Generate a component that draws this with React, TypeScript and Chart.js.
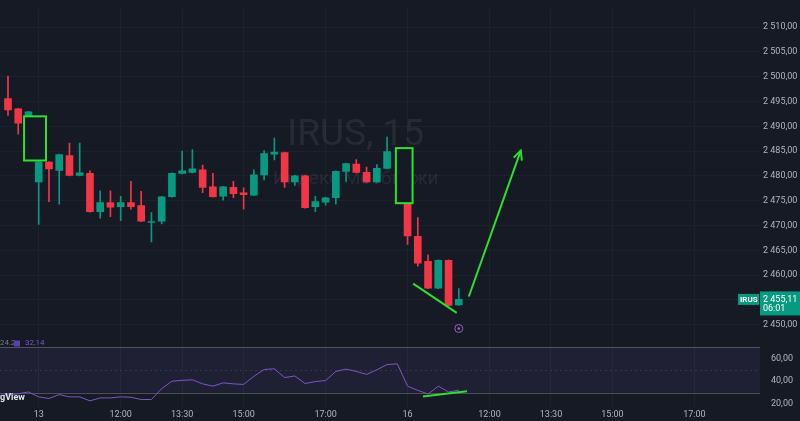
import React, { useEffect, useRef } from "react";
import { Chart, registerables } from "chart.js";

Chart.register(...registerables);

// ---------- data ----------
const firstIndex = -4; // bar index of the first entry (index 0 = 13th, 10:00)

const candleTimes = [
  "12 18:00", "12 18:15", "12 18:30", "12 18:45",
  "13 10:00", "13 10:15", "13 10:30", "13 10:45", "13 11:00", "13 11:15", "13 11:30", "13 11:45",
  "13 12:00", "13 12:15", "13 12:30", "13 12:45", "13 13:00", "13 13:15", "13 13:30", "13 13:45",
  "13 14:00", "13 14:15", "13 14:30", "13 14:45", "13 15:00", "13 15:15", "13 15:30", "13 15:45",
  "13 16:00", "13 16:15", "13 16:30", "13 16:45", "13 17:00", "13 17:15", "13 17:30", "13 17:45",
  "13 18:00", "13 18:15", "13 18:30", "13 18:45",
  "16 10:00", "16 10:15", "16 10:30", "16 10:45", "16 11:00", "16 11:15",
];

const openP = [
  null, 2495.6, 2493.5, 2490.6,
  2478.8, 2482.8, 2481.1, 2484.1, 2480.1, 2480.5, 2472.8, 2474.6, 2473.8, 2474.6,
  2474.0, 2470.6, 2470.9, 2475.8, 2480.5, 2480.7, 2481.2, 2477.8, 2475.9, 2477.7,
  2476.6, 2476.1, 2480.2, 2484.4, 2484.7, 2478.8, 2480.0, 2473.8, 2474.7, 2475.6,
  2480.9, 2482.4, 2480.7, 2478.8, 2481.5, null,
  2474.5, 2467.8, 2462.8, 2457.4, 2463.0, 2454.0,
];
const highP = [
  null, 2500.1, 2493.6, 2493.0,
  2482.9, 2482.9, 2484.4, 2486.6, 2486.6, 2481.0, 2477.0, 2477.0, 2475.9, 2478.9,
  2476.9, 2472.6, 2475.9, 2480.6, 2485.0, 2485.3, 2482.2, 2480.5, 2477.9, 2478.9,
  2477.6, 2481.2, 2485.1, 2487.6, 2484.8, 2480.1, 2480.1, 2475.9, 2475.7, 2481.0,
  2482.6, 2483.3, 2481.8, 2482.3, 2487.8, null,
  2474.6, 2471.6, 2464.1, 2463.1, 2463.1, 2457.3,
];
const lowP = [
  null, 2492.2, 2488.4, 2490.4,
  2470.2, 2474.8, 2474.3, 2480.0, 2480.0, 2472.7, 2471.5, 2471.8, 2471.0, 2473.3,
  2470.8, 2466.7, 2470.3, 2475.7, 2480.4, 2480.6, 2476.6, 2475.7, 2475.1, 2475.6,
  2473.3, 2476.0, 2479.2, 2483.2, 2477.7, 2478.1, 2473.5, 2472.8, 2474.1, 2474.3,
  2478.9, 2480.6, 2478.7, 2478.7, 2481.4, null,
  2466.2, 2461.8, 2457.3, 2457.3, 2453.8, 2453.9,
];
const closeP = [
  null, 2493.3, 2490.6, 2492.9,
  2482.8, 2481.4, 2484.3, 2480.1, 2480.6, 2472.8, 2474.6, 2473.7, 2474.6, 2473.8,
  2470.9, 2470.8, 2475.8, 2480.5, 2481.0, 2481.4, 2477.7, 2475.8, 2477.8, 2476.4,
  2476.2, 2480.2, 2484.5, 2484.8, 2478.8, 2480.0, 2473.6, 2474.8, 2475.6, 2480.9,
  2482.5, 2480.7, 2478.8, 2481.5, 2484.9, null,
  2467.9, 2462.4, 2457.4, 2463.0, 2453.9, 2455.11,
];
const rsiValues = [
  27.6, 28.0, 29.0, 30.6,
  26.3, 24.9, 28.3, 26.3, 26.3, 22.8, 25.4, 25.4, 26.3, 26.0,
  24.0, 24.0, 33.5, 40.0, 40.8, 41.2, 37.7, 35.7, 38.6, 37.7,
  37.2, 44.3, 50.3, 50.9, 43.2, 44.6, 38.0, 39.7, 40.6, 48.6,
  50.6, 48.6, 46.0, 50.0, 54.6, 55.2,
  35.7, 32.0, 28.8, 35.7, 30.6, 32.14,
];

const priceTicks = [2450, 2455, 2460, 2465, 2470, 2475, 2480, 2485, 2490, 2495, 2500, 2505, 2510];
const rsiTicks = [20, 40, 60];
const rsiBands = [70, 50, 30];
const xTickIndex = [0, 8, 14, 20, 28, 36, 44, 50, 56, 64];
const xTickLabels = ["13", "12:00", "13:30", "15:00", "17:00", "16", "12:00", "13:30", "15:00", "17:00"];

// user drawings, in bar-index / price units
const boxX0 = [-1.43, 34.86];
const boxX1 = [0.71, 36.49];
const boxTop = [2492.0, 2485.6];
const boxBottom = [2483.1, 2474.5];
const trendLine = [36.55, 2458.3, 40.8, 2452.4];
const arrowLine = [41.98, 2455.7, 47.05, 2485.1];
const rsiTrendLine = [37.5, 26.6, 41.8, 31.2];

const symbolName = "IRUS";
const intervalName = "15";
const description = "Индекс Мосбиржи";
const countdown = "06:01";
const rsiLegend = ["24.2", "32,14"];

// ---------- style ----------
const BG = "#161a25";
const GRID = "#1d212c";
const UP = "#089981";
const DOWN = "#f23645";
const TEXT = "#b2b5be";
const DRAW = "#2ee02e";
const FONT = "Roboto, 'Noto Sans', sans-serif";

const X_MIN = -3.78;
const X_MAX = 70.4;
const P_MIN = 2447.64;
const P_MAX = 2513.75;
const R_MIN = 17.43;
const R_MAX = 79.2;

function fmtPrice(v: number): string {
  const fixed = v.toFixed(2).replace(".", ",");
  const [intPart, dec] = fixed.split(",");
  const withSpace = intPart.replace(/\B(?=(\d{3})+(?!\d))/g, " ");
  return withSpace + "," + dec;
}

export default function App() {
  const ref = useRef<HTMLCanvasElement>(null);

  useEffect(() => {
    document.body.style.margin = "0";
    document.body.style.background = BG;
    const canvas = ref.current;
    if (!canvas) return;

    const bodies: any[] = [];
    const wicks: any[] = [];
    const colors: string[] = [];
    openP.forEach((o, k) => {
      const c = closeP[k];
      const h = highP[k];
      const l = lowP[k];
      if (o == null || c == null || h == null || l == null) return;
      const x = firstIndex + k;
      bodies.push({ x, y: [o, c] });
      wicks.push({ x, y: [l, h] });
      colors.push(c >= o ? UP : DOWN);
    });
    const rsiData = rsiValues.map((v, k) => ({ x: firstIndex + k, y: v }));

    const bgPlugin = {
      id: "bgPlugin",
      beforeDraw(chart: any) {
        const { ctx, width, height } = chart;
        ctx.save();
        ctx.fillStyle = BG;
        ctx.fillRect(0, 0, width, height);
        ctx.restore();
      },
      beforeDatasetsDraw(chart: any) {
        const { ctx, chartArea } = chart;
        const r = chart.scales.yRsi;
        const y = chart.scales.y;
        ctx.save();
        // watermark
        ctx.fillStyle = "rgba(255,255,255,0.07)";
        ctx.textAlign = "center";
        ctx.textBaseline = "alphabetic";
        const cx = chartArea.left + chartArea.width * 0.468;
        ctx.font = `37px ${FONT}`;
        ctx.fillText(`${symbolName}, ${intervalName}`, cx, y.top + 137);
        ctx.font = `19px ${FONT}`;
        ctx.fillText(description, cx, y.top + 176);
        // rsi bands
        const y70 = r.getPixelForValue(rsiBands[0]);
        const y50 = r.getPixelForValue(rsiBands[1]);
        const y30 = r.getPixelForValue(rsiBands[2]);
        ctx.fillStyle = "rgba(126,87,194,0.1)";
        ctx.fillRect(chartArea.left, y70, chartArea.width, y30 - y70);
        ctx.strokeStyle = "rgba(120,123,134,0.55)";
        ctx.lineWidth = 1;
        ctx.beginPath();
        ctx.moveTo(chartArea.left, Math.round(y70) + 0.5);
        ctx.lineTo(chartArea.right, Math.round(y70) + 0.5);
        ctx.moveTo(chartArea.left, Math.round(y30) + 0.5);
        ctx.lineTo(chartArea.right, Math.round(y30) + 0.5);
        ctx.stroke();
        ctx.setLineDash([2, 3]);
        ctx.strokeStyle = "rgba(120,123,134,0.25)";
        ctx.beginPath();
        ctx.moveTo(chartArea.left, Math.round(y50) + 0.5);
        ctx.lineTo(chartArea.right, Math.round(y50) + 0.5);
        ctx.stroke();
        ctx.restore();
      },
      afterDatasetsDraw(chart: any) {
        const { ctx, chartArea } = chart;
        const xs = chart.scales.x;
        const ys = chart.scales.y;
        const rs = chart.scales.yRsi;
        ctx.save();
        ctx.strokeStyle = DRAW;
        ctx.lineWidth = 2;
        // boxes
        boxX0.forEach((x0, k) => {
          const px0 = xs.getPixelForValue(x0);
          const px1 = xs.getPixelForValue(boxX1[k]);
          const py0 = ys.getPixelForValue(boxTop[k]);
          const py1 = ys.getPixelForValue(boxBottom[k]);
          ctx.fillStyle = BG;
          ctx.fillRect(px0, py0, px1 - px0, py1 - py0);
          ctx.strokeRect(px0, py0, px1 - px0, py1 - py0);
        });
        // trend line
        ctx.beginPath();
        ctx.moveTo(xs.getPixelForValue(trendLine[0]), ys.getPixelForValue(trendLine[1]));
        ctx.lineTo(xs.getPixelForValue(trendLine[2]), ys.getPixelForValue(trendLine[3]));
        ctx.stroke();
        // arrow
        const ax0 = xs.getPixelForValue(arrowLine[0]);
        const ay0 = ys.getPixelForValue(arrowLine[1]);
        const ax1 = xs.getPixelForValue(arrowLine[2]);
        const ay1 = ys.getPixelForValue(arrowLine[3]);
        ctx.beginPath();
        ctx.moveTo(ax0, ay0);
        ctx.lineTo(ax1, ay1);
        ctx.stroke();
        const ang = Math.atan2(ay1 - ay0, ax1 - ax0);
        const hl = 10;
        ctx.beginPath();
        ctx.moveTo(ax1 - hl * Math.cos(ang - 0.45), ay1 - hl * Math.sin(ang - 0.45));
        ctx.lineTo(ax1, ay1);
        ctx.lineTo(ax1 - hl * Math.cos(ang + 0.45), ay1 - hl * Math.sin(ang + 0.45));
        ctx.stroke();
        // rsi trend line
        ctx.beginPath();
        ctx.moveTo(xs.getPixelForValue(rsiTrendLine[0]), rs.getPixelForValue(rsiTrendLine[1]));
        ctx.lineTo(xs.getPixelForValue(rsiTrendLine[2]), rs.getPixelForValue(rsiTrendLine[3]));
        ctx.stroke();

        // event marker below the last bar
        const lastX = xs.getPixelForValue(firstIndex + closeP.length - 1);
        ctx.strokeStyle = "#9c5fc4";
        ctx.lineWidth = 1;
        ctx.beginPath();
        ctx.arc(lastX, ys.bottom - 8, 4, 0, Math.PI * 2);
        ctx.stroke();
        ctx.fillStyle = "#9c5fc4";
        ctx.beginPath();
        ctx.arc(lastX, ys.bottom - 8, 1.3, 0, Math.PI * 2);
        ctx.fill();

        // rsi legend
        ctx.font = `8px ${FONT}`;
        ctx.textBaseline = "middle";
        ctx.textAlign = "left";
        ctx.fillStyle = "#787b86";
        ctx.fillText(rsiLegend[0], 0, rs.top + 7);
        ctx.fillStyle = "#5b3fb0";
        ctx.fillRect(14, rs.top + 4, 6, 6);
        ctx.fillStyle = "#7e57c2";
        ctx.fillText(rsiLegend[1], 25, rs.top + 7);

        // logo text
        ctx.font = `bold 9px ${FONT}`;
        ctx.fillStyle = "#e0e3eb";
        ctx.textBaseline = "alphabetic";
        ctx.fillText("gView", 0, rs.bottom - 7);

        // price tag
        const last = closeP[closeP.length - 1] as number;
        const py = ys.getPixelForValue(last);
        ctx.fillStyle = UP;
        ctx.fillRect(chartArea.right, py - 8, 40, 24);
        ctx.fillRect(chartArea.right - 22, py - 5.5, 21, 11);
        ctx.fillStyle = "#ffffff";
        ctx.font = `bold 8px ${FONT}`;
        ctx.textBaseline = "middle";
        ctx.fillText(symbolName, chartArea.right - 20, py + 0.5);
        ctx.font = `9px ${FONT}`;
        ctx.fillText(fmtPrice(last), chartArea.right + 3, py);
        ctx.fillText(countdown, chartArea.right + 3, py + 9);
        ctx.restore();
      },
    };

    const chart = new Chart(canvas, {
      type: "line",
      data: {
        datasets: [
          {
            type: "line",
            label: "RSI",
            data: rsiData,
            xAxisID: "x",
            yAxisID: "yRsi",
            borderColor: "#7e57c2",
            backgroundColor: "#7e57c2",
            borderWidth: 1,
            pointRadius: 0,
            tension: 0,
            fill: false,
          } as any,
          {
            type: "bar",
            label: "bodies",
            data: bodies,
            xAxisID: "x",
            yAxisID: "y",
            backgroundColor: colors,
            barThickness: 7,
            minBarLength: 1,
            grouped: false,
            borderWidth: 0,
          } as any,
          {
            type: "bar",
            label: "wicks",
            data: wicks,
            xAxisID: "x",
            yAxisID: "y",
            backgroundColor: colors,
            barThickness: 1,
            grouped: false,
            borderWidth: 0,
          } as any,
        ],
      },
      options: {
        animation: false,
        responsive: false,
        devicePixelRatio: 1,
        layout: { padding: 0 },
        plugins: { legend: { display: false }, tooltip: { enabled: false } },
        scales: {
          x: {
            type: "linear",
            axis: "x",
            position: "bottom",
            offset: false,
            min: X_MIN,
            max: X_MAX,
            grid: { color: GRID, drawTicks: false, offset: false },
            border: { display: false },
            afterBuildTicks: (s: any) => {
              s.ticks = xTickIndex.map((v) => ({ value: v }));
            },
            afterFit: (s: any) => {
              s.height = 14;
            },
            ticks: {
              autoSkip: false,
              maxRotation: 0,
              padding: 2,
              color: TEXT,
              font: { family: FONT, size: 9 },
              callback: (_v: any, i: number) => xTickLabels[i],
            },
          },
          y: {
            type: "linear",
            axis: "y",
            position: "right",
            stack: "panes",
            stackWeight: 335,
            min: P_MIN,
            max: P_MAX,
            grid: { color: GRID, drawTicks: false },
            border: { display: false },
            afterBuildTicks: (s: any) => {
              s.ticks = priceTicks.map((v) => ({ value: v }));
            },
            afterFit: (s: any) => {
              s.width = 40;
            },
            ticks: {
              padding: 3,
              color: TEXT,
              font: { family: FONT, size: 9 },
              callback: (v: any) => (v === 2455 ? "" : fmtPrice(Number(v))),
            },
          },
          yRsi: {
            type: "linear",
            axis: "y",
            position: "right",
            stack: "panes",
            stackWeight: 72,
            min: R_MIN,
            max: R_MAX,
            grid: { display: false },
            border: { display: false },
            afterBuildTicks: (s: any) => {
              s.ticks = rsiTicks.map((v) => ({ value: v }));
            },
            afterFit: (s: any) => {
              s.width = 40;
            },
            ticks: {
              padding: 3,
              color: TEXT,
              font: { family: FONT, size: 9 },
              callback: (v: any) => fmtPrice(Number(v)),
            },
          },
        } as any,
      },
      plugins: [bgPlugin],
    });

    return () => chart.destroy();
  }, []);

  return (
    <div style={{ width: 800, height: 421 }}>
      <canvas ref={ref} width={800} height={421} style={{ display: "block" }} />
    </div>
  );
}
